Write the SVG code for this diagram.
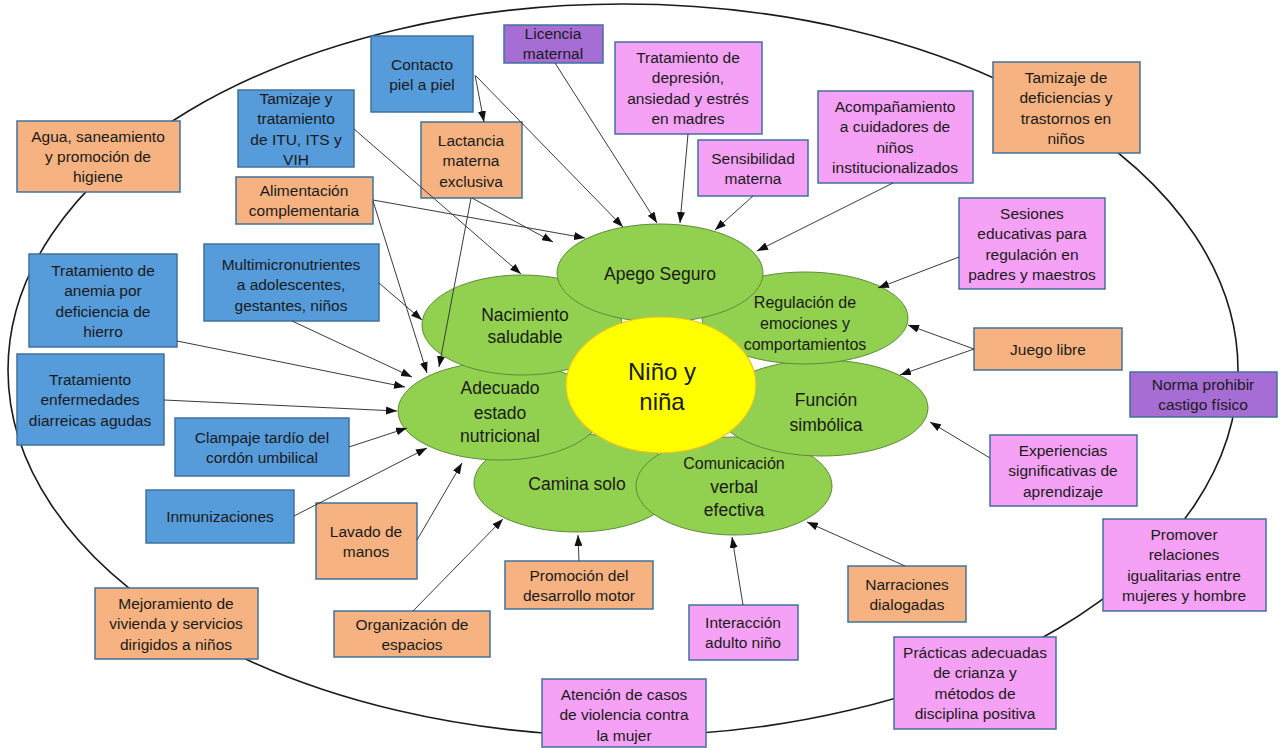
<svg xmlns="http://www.w3.org/2000/svg" width="1282" height="748" viewBox="0 0 1282 748">
<style>
.bx rect{stroke:#41719C;stroke-width:1.5}
.b rect{fill:#569BDA}
.o rect{fill:#F6B280}
.p rect{fill:#F5A1F6}
.v rect{fill:#A66DD4}
text{font-family:"Liberation Sans",Arial,sans-serif;fill:#1a1a1a;text-anchor:middle}
.bx text{font-size:15.5px}
.g ellipse{fill:#92D050;stroke:#5E8A3A;stroke-width:1}
.g text{font-size:17.5px}
.g text.s{font-size:16px}
#conn line{stroke:#3a3a3a;stroke-width:1;marker-end:url(#ah)}
</style>
<defs>
<marker id="ah" markerUnits="userSpaceOnUse" markerWidth="11" markerHeight="8" refX="11" refY="4" orient="auto">
<path d="M0,0 L11,4 L0,8 z" fill="#111"/>
</marker>
</defs>
<rect width="1282" height="748" fill="#fff"/>
<g id="outer"><ellipse cx="623" cy="370" rx="615" ry="366" fill="none" stroke="#1a1a1a" stroke-width="1.6"/></g>

<g id="camina" class="g"><ellipse cx="576" cy="483" rx="102" ry="49"/><text x="577" y="490">Camina solo</text></g>
<g id="adecuado" class="g"><ellipse cx="500" cy="411" rx="102" ry="49"/><text x="500" y="394">Adecuado</text><text x="500" y="419">estado</text><text x="500" y="442">nutricional</text></g>
<g id="comunicacion" class="g"><ellipse cx="734" cy="486" rx="98" ry="49"/><text class="s" x="734" y="469">Comunicación</text><text x="734" y="493">verbal</text><text x="734" y="516">efectiva</text></g>
<g id="funcion" class="g"><ellipse cx="822" cy="408" rx="106" ry="48"/><text x="826" y="406">Función</text><text x="826" y="431">simbólica</text></g>
<g id="regulacion" class="g"><ellipse cx="805" cy="318" rx="103" ry="46"/><text class="s" x="805" y="308">Regulación de</text><text class="s" x="805" y="329">emociones y</text><text class="s" x="805" y="350">comportamientos</text></g>
<g id="nacimiento" class="g"><ellipse cx="522" cy="325" rx="100" ry="50"/><text x="525" y="321">Nacimiento</text><text x="525" y="343">saludable</text></g>
<g id="apego" class="g"><ellipse cx="660" cy="273" rx="103" ry="49"/><text x="660" y="280">Apego Seguro</text></g>
<g id="nino"><ellipse cx="661" cy="385" rx="95" ry="68" fill="#FFFF00" stroke="#E8C020" stroke-width="1.2"/><text x="662" y="380" style="font-size:24px">Niño y</text><text x="662" y="410" style="font-size:24px">niña</text></g>

<g id="agua" class="bx o"><rect x="17" y="121" width="163" height="71"/><text x="98" y="142">Agua, saneamiento</text><text x="98" y="162">y promoción de</text><text x="98" y="182">higiene</text></g>
<g id="tamizaje-itu" class="bx b"><rect x="238" y="90" width="116" height="77"/><text x="296" y="104">Tamizaje y</text><text x="296" y="124">tratamiento</text><text x="296" y="145">de ITU, ITS y</text><text x="296" y="165">VIH</text></g>
<g id="contacto" class="bx b"><rect x="371" y="36" width="102" height="76"/><text x="422" y="70">Contacto</text><text x="422" y="90">piel a piel</text></g>
<g id="alimentacion" class="bx o"><rect x="236" y="177" width="137" height="47"/><text x="304" y="196">Alimentación</text><text x="304" y="216">complementaria</text></g>
<g id="lactancia" class="bx o"><rect x="421" y="122" width="101" height="76"/><text x="471" y="146">Lactancia</text><text x="471" y="166">materna</text><text x="471" y="187">exclusiva</text></g>
<g id="licencia" class="bx v"><rect x="504" y="25" width="99" height="38"/><text x="553" y="39">Licencia</text><text x="553" y="59">maternal</text></g>
<g id="depresion" class="bx p"><rect x="615" y="42" width="147" height="92"/><text x="688" y="63">Tratamiento de</text><text x="688" y="83">depresión,</text><text x="688" y="104">ansiedad y estrés</text><text x="688" y="124">en madres</text></g>
<g id="sensibilidad" class="bx p"><rect x="698" y="140" width="110" height="56"/><text x="753" y="164">Sensibilidad</text><text x="753" y="184">materna</text></g>
<g id="acompanamiento" class="bx p"><rect x="818" y="91" width="155" height="92"/><text x="895" y="112">Acompañamiento</text><text x="895" y="132">a cuidadores de</text><text x="895" y="153">niños</text><text x="895" y="173">institucionalizados</text></g>
<g id="tamizaje-def" class="bx o"><rect x="993" y="62" width="147" height="91"/><text x="1066" y="83">Tamizaje de</text><text x="1066" y="103">deficiencias y</text><text x="1066" y="124">trastornos en</text><text x="1066" y="144">niños</text></g>
<g id="sesiones" class="bx p"><rect x="959" y="198" width="146" height="91"/><text x="1032" y="219">Sesiones</text><text x="1032" y="239">educativas para</text><text x="1032" y="260">regulación en</text><text x="1032" y="280">padres y maestros</text></g>
<g id="juego" class="bx o"><rect x="974" y="328" width="148" height="42"/><text x="1048" y="355">Juego libre</text></g>
<g id="norma" class="bx v"><rect x="1130" y="372" width="147" height="45"/><text x="1203" y="390">Norma prohibir</text><text x="1203" y="410">castigo físico</text></g>
<g id="experiencias" class="bx p"><rect x="990" y="435" width="147" height="71"/><text x="1063" y="456">Experiencias</text><text x="1063" y="476">significativas de</text><text x="1063" y="497">aprendizaje</text></g>
<g id="promover" class="bx p"><rect x="1103" y="519" width="163" height="92"/><text x="1184" y="540">Promover</text><text x="1184" y="560">relaciones</text><text x="1184" y="581">igualitarias entre</text><text x="1184" y="601">mujeres y hombre</text></g>
<g id="practicas" class="bx p"><rect x="894" y="637" width="162" height="92"/><text x="975" y="658">Prácticas adecuadas</text><text x="975" y="678">de crianza y</text><text x="975" y="699">métodos de</text><text x="975" y="719">disciplina positiva</text></g>
<g id="narraciones" class="bx o"><rect x="848" y="566" width="118" height="56"/><text x="907" y="590">Narraciones</text><text x="907" y="610">dialogadas</text></g>
<g id="interaccion" class="bx p"><rect x="689" y="605" width="109" height="55"/><text x="743" y="628">Interacción</text><text x="743" y="648">adulto niño</text></g>
<g id="atencion" class="bx p"><rect x="542" y="679" width="164" height="68"/><text x="624" y="700">Atención de casos</text><text x="624" y="720">de violencia contra</text><text x="624" y="741">la mujer</text></g>
<g id="promocion" class="bx o"><rect x="505" y="561" width="148" height="48"/><text x="579" y="581">Promoción del</text><text x="579" y="601">desarrollo motor</text></g>
<g id="organizacion" class="bx o"><rect x="334" y="611" width="156" height="46"/><text x="412" y="630">Organización de</text><text x="412" y="650">espacios</text></g>
<g id="lavado" class="bx o"><rect x="316" y="503" width="101" height="76"/><text x="366" y="537">Lavado de</text><text x="366" y="557">manos</text></g>
<g id="inmunizaciones" class="bx b"><rect x="146" y="490" width="148" height="53"/><text x="220" y="522">Inmunizaciones</text></g>
<g id="mejoramiento" class="bx o"><rect x="95" y="588" width="163" height="71"/><text x="176" y="609">Mejoramiento de</text><text x="176" y="629">vivienda y servicios</text><text x="176" y="650">dirigidos a niños</text></g>
<g id="clampaje" class="bx b"><rect x="175" y="418" width="174" height="58"/><text x="262" y="443">Clampaje tardío del</text><text x="262" y="463">cordón umbilical</text></g>
<g id="diarreicas" class="bx b"><rect x="17" y="354" width="147" height="91"/><text x="90" y="385">Tratamiento</text><text x="90" y="405">enfermedades</text><text x="90" y="426">diarreicas agudas</text></g>
<g id="anemia" class="bx b"><rect x="29" y="254" width="148" height="93"/><text x="103" y="276">Tratamiento de</text><text x="103" y="296">anemia por</text><text x="103" y="317">deficiencia de</text><text x="103" y="337">hierro</text></g>
<g id="multi" class="bx b"><rect x="204" y="244" width="175" height="77"/><text x="291" y="270">Multimicronutrientes</text><text x="291" y="290">a adolescentes,</text><text x="291" y="311">gestantes, niños</text></g>

<g id="conn">
<line x1="475" y1="75" x2="484" y2="122"/>
<line x1="476" y1="76" x2="623" y2="227"/>
<line x1="555" y1="63" x2="657" y2="223"/>
<line x1="688" y1="134" x2="680" y2="223"/>
<line x1="753" y1="196" x2="715" y2="230"/>
<line x1="893" y1="183" x2="757" y2="251"/>
<line x1="373" y1="200" x2="585" y2="238"/>
<line x1="472" y1="198" x2="553" y2="242"/>
<line x1="354" y1="129" x2="521" y2="274"/>
<line x1="373" y1="201" x2="427" y2="373"/>
<line x1="471" y1="198" x2="439" y2="367"/>
<line x1="379" y1="283" x2="422" y2="320"/>
<line x1="292" y1="321" x2="412" y2="377"/>
<line x1="177" y1="341" x2="405" y2="387"/>
<line x1="164" y1="400" x2="397" y2="411"/>
<line x1="349" y1="447" x2="407" y2="428"/>
<line x1="294" y1="516" x2="427" y2="448"/>
<line x1="417" y1="540" x2="462" y2="463"/>
<line x1="413" y1="611" x2="503" y2="519"/>
<line x1="579" y1="561" x2="578" y2="535"/>
<line x1="743" y1="605" x2="732" y2="537"/>
<line x1="905" y1="566" x2="807" y2="522"/>
<line x1="990" y1="458" x2="930" y2="422"/>
<line x1="974" y1="349" x2="908" y2="325"/>
<line x1="974" y1="349" x2="900" y2="375"/>
<line x1="959" y1="257" x2="878" y2="288"/>
</g>
</svg>
